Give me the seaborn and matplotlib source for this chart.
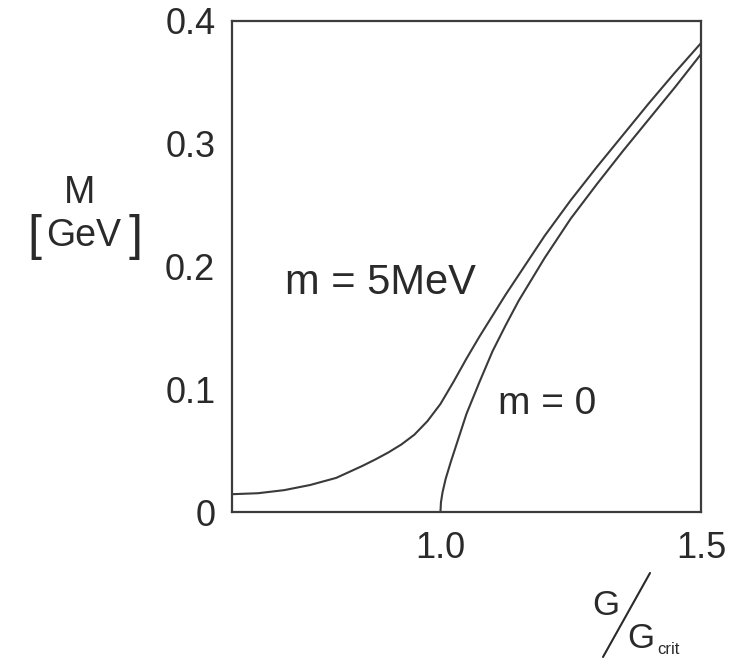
import matplotlib
matplotlib.use("Agg")
import matplotlib.pyplot as plt
from matplotlib.lines import Line2D
import pandas as pd
import seaborn as sns

# Dynamical quark mass M versus coupling ratio G/G_crit
g_massive = [0.60, 0.65, 0.70, 0.75, 0.80, 0.85, 0.875, 0.90, 0.925, 0.95,
             0.975, 1.00, 1.025, 1.05, 1.075, 1.10, 1.125, 1.15, 1.20, 1.25,
             1.30, 1.35, 1.40, 1.45, 1.50]
m_massive = [0.0145, 0.0153, 0.0178, 0.022, 0.0278, 0.0375, 0.0428, 0.0485, 0.055, 0.063,
             0.074, 0.088, 0.106, 0.125, 0.143, 0.160, 0.177, 0.193, 0.225, 0.254,
             0.281, 0.307, 0.333, 0.358, 0.382]

g_chiral = [1.000, 1.001, 1.004, 1.010, 1.020, 1.030, 1.050, 1.075, 1.10, 1.125,
            1.15, 1.20, 1.25, 1.30, 1.35, 1.40, 1.45, 1.50]
m_chiral = [0.000, 0.008, 0.016, 0.027, 0.041, 0.054, 0.080, 0.106, 0.131, 0.152,
            0.172, 0.207, 0.239, 0.267, 0.294, 0.320, 0.346, 0.373]

x_ticks = [0.6, 0.7, 0.8, 0.9, 1.0, 1.1, 1.2, 1.3, 1.4, 1.5]
x_tick_labels = ["", "", "", "", "1.0", "", "", "", "", "1.5"]
y_ticks = [0.0, 0.1, 0.2, 0.3, 0.4]
y_tick_labels = ["0", "0.1", "0.2", "0.3", "0.4"]

sns.set_style("white")
plt.rcParams["font.family"] = ["Liberation Sans", "DejaVu Sans"]

W, H = 755, 658
ink = "#2a2a2a"
line_ink = "#3a3a3a"

fig = plt.figure(figsize=(W / 100, H / 100), dpi=100)
ax = fig.add_axes([232 / W, 1 - 512 / H, (701 - 232) / W, (512 - 21) / H])

massive = pd.DataFrame({"G": g_massive, "M": m_massive})
chiral = pd.DataFrame({"G": g_chiral, "M": m_chiral})
sns.lineplot(data=massive, x="G", y="M", ax=ax, color=line_ink, lw=1.5,
             sort=False, estimator=None)
sns.lineplot(data=chiral, x="G", y="M", ax=ax, color=line_ink, lw=1.5,
             sort=False, estimator=None)

ax.set_xlim(0.6, 1.5)
ax.set_ylim(0.0, 0.4)
ax.set_xticks(x_ticks, x_tick_labels)
ax.set_yticks(y_ticks, y_tick_labels)
ax.set_xlabel("")
ax.set_ylabel("")

for sp in ax.spines.values():
    sp.set_visible(True)
    sp.set_color("#3c3c3c")
    sp.set_linewidth(1.6)

ax.tick_params(axis="x", direction="in", length=11, width=1.5, color="#3c3c3c",
               labelsize=26, labelcolor=ink, pad=14)
ax.tick_params(axis="y", direction="in", length=15, width=1.5, color="#3c3c3c",
               labelsize=26, labelcolor=ink, pad=12)

# curve annotations
ax.text(0.702, 0.178, "m = 5MeV", fontsize=30, color=ink, va="baseline", ha="left")
ax.text(1.110, 0.080, "m = 0", fontsize=28, color=ink, va="baseline", ha="left")


def ftext(x, y, s, size, **kw):
    fig.text(x / W, 1 - y / H, s, fontsize=size, color=ink, **kw)


# y-axis label
ftext(80, 203, "M", 27, ha="center", va="baseline")
ftext(84, 246, "GeV", 27, ha="center", va="baseline")
ftext(34, 250, "[", 36, ha="center", va="baseline")
ftext(136, 250, "]", 36, ha="center", va="baseline")

# x-axis label
ftext(606, 615, "G", 25, ha="center", va="baseline")
ftext(641, 648, "G", 25, ha="center", va="baseline")
ftext(657, 654, "crit", 12, ha="left", va="baseline")
fig.add_artist(Line2D([650 / W, 603 / W], [1 - 573 / H, 1 - 657 / H],
                      color=ink, lw=1.5, transform=fig.transFigure))

fig.savefig("out.png", dpi=100, facecolor="white")
